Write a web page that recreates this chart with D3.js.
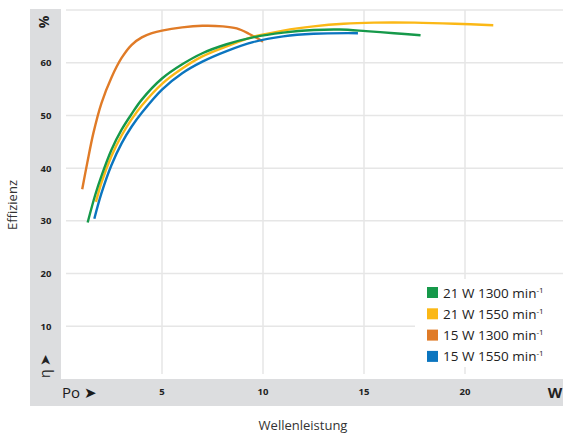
<!DOCTYPE html>
<html><head><meta charset="utf-8">
<script src="https://cdn.jsdelivr.net/npm/d3@7"></script>
<style>body{margin:0;background:#fff}svg{display:block;font-family:"Open Sans","Noto Sans",sans-serif}</style>
</head><body><svg id="c" width="563" height="436"></svg>
<script>
const seriesNames = ["21 W 1300 min", "21 W 1550 min", "15 W 1300 min", "15 W 1550 min"];
const seriesColors = ["#16994a", "#fbb816", "#e07b27", "#0b75bf"];
const green21_1300 = [[1.32,29.7],[1.7,35],[2.0,38.5],[2.5,43.5],[3.0,47.3],[3.5,50.3],[4.0,53.0],[5.0,57.0],[6.0,59.7],[7.0,61.8],[8.2,63.5],[9.5,64.8],[11.0,65.7],[12.5,66.2],[13.8,66.3],[15.1,66.0],[16.5,65.6],[17.8,65.2]];
const yellow21_1550 = [[1.73,33.6],[2.0,37.2],[2.5,42.3],[3.0,46.2],[3.5,49.3],[4.0,51.9],[5.0,56.0],[6.0,58.9],[7.0,61.2],[8.2,63.1],[9.5,64.9],[11.0,66.1],[12.5,66.9],[14.0,67.4],[15.5,67.6],[17.5,67.6],[19.5,67.4],[21.4,67.1]];
const orange15_1300 = [[1.05,36],[1.3,41],[1.6,46.6],[2.0,52.3],[2.5,57.2],[3.0,60.9],[3.5,63.4],[4.0,64.8],[4.5,65.6],[5.0,66.1],[6.0,66.7],[7.0,67.0],[8.0,66.9],[8.7,66.5],[9.3,65.5],[10.0,64.0]];
const blue15_1550 = [[1.65,30.4],[2.0,35.2],[2.5,40.6],[3.0,44.7],[3.5,47.9],[4.0,50.5],[5.0,54.9],[6.0,58.0],[7.0,60.2],[8.2,62.2],[9.5,63.9],[11.0,65.0],[12.5,65.5],[14.7,65.6]];
const seriesData = [green21_1300, yellow21_1550, orange15_1300, blue15_1550];
const xTicks = [5, 10, 15, 20];
const yTicks = [10, 20, 30, 40, 50, 60];

const svg = d3.select("#c");
const x = d3.scaleLinear().domain([0, 25]).range([61, 566]);
const y = d3.scaleLinear().domain([0, 70]).range([379, 10]);

// gray bands
svg.append("rect").attr("x",30).attr("y",9).attr("width",31).attr("height",397).attr("fill","#dcdddf");
svg.append("rect").attr("x",30).attr("y",379).attr("width",533).attr("height",27).attr("fill","#dcdddf");

// gridlines
const g = svg.append("g");
g.selectAll(".hg").data(yTicks.concat([70])).join("line")
  .attr("x1",66).attr("x2",563).attr("y1",d=>y(d)).attr("y2",d=>y(d))
  .attr("stroke","#e6e6e6").attr("stroke-width",1.5);
g.selectAll(".vg").data(xTicks).join("line")
  .attr("x1",d=>x(d)).attr("x2",d=>x(d)).attr("y1",10).attr("y2",374)
  .attr("stroke","#e6e6e6").attr("stroke-width",1.5);

// tick labels
svg.append("g").selectAll("text").data(yTicks).join("text")
  .attr("x",46).attr("y",d=>y(d)+3.5).attr("text-anchor","middle")
  .attr("font-size",9.5).attr("font-weight","bold").attr("fill","#222").text(d=>d);
svg.append("g").selectAll("text").data(xTicks).join("text")
  .attr("x",d=>x(d)).attr("y",395).attr("text-anchor","middle")
  .attr("font-size",9.5).attr("font-weight","bold").attr("fill","#222").text(d=>d);

// unit labels
svg.append("text").attr("transform","translate(49,22) rotate(-90)").attr("text-anchor","middle")
  .attr("font-size",14).attr("font-weight","bold").attr("fill","#222").text("%");
svg.append("text").attr("x",555).attr("y",398).attr("text-anchor","middle")
  .attr("font-size",15).attr("font-weight","bold").attr("fill","#222").text("W");
svg.append("text").attr("x",62).attr("y",398).attr("font-size",15).attr("fill","#1a1a1a").text("Po ➤");
svg.append("text").attr("transform","translate(50,366) rotate(-90)").attr("text-anchor","middle")
  .attr("font-size",14).attr("fill","#222").text("η ➤");

// axis titles
svg.append("text").attr("x",303).attr("y",430).attr("text-anchor","middle")
  .attr("font-size",13).attr("fill","#333").text("Wellenleistung");
svg.append("text").attr("transform","translate(17,205) rotate(-90)").attr("text-anchor","middle")
  .attr("font-size",13).attr("fill","#333").text("Effizienz");

// curves
const line = d3.line().x(d=>x(d[0])).y(d=>y(d[1])).curve(d3.curveCatmullRom.alpha(0.5));
const order = [2,1,3,0];
svg.append("g").selectAll("path").data(order).join("path")
  .attr("d",i=>line(seriesData[i])).attr("fill","none")
  .attr("stroke",i=>seriesColors[i]).attr("stroke-width",2.4);

// legend
const lg = svg.append("g");
lg.append("rect").attr("x",415).attr("y",279).attr("width",148).attr("height",88).attr("fill","#fff");
const items = lg.selectAll("g").data(seriesNames).join("g")
  .attr("transform",(d,i)=>`translate(427,${287+i*21.3})`);
items.append("rect").attr("width",11).attr("height",11).attr("fill",(d,i)=>seriesColors[i]);
const t = items.append("text").attr("x",16).attr("y",10.5).attr("font-size",13.5).attr("fill","#222");
t.append("tspan").text(d=>d);
t.append("tspan").attr("font-size",8).attr("dy",-5).text("-1");
</script></body></html>
